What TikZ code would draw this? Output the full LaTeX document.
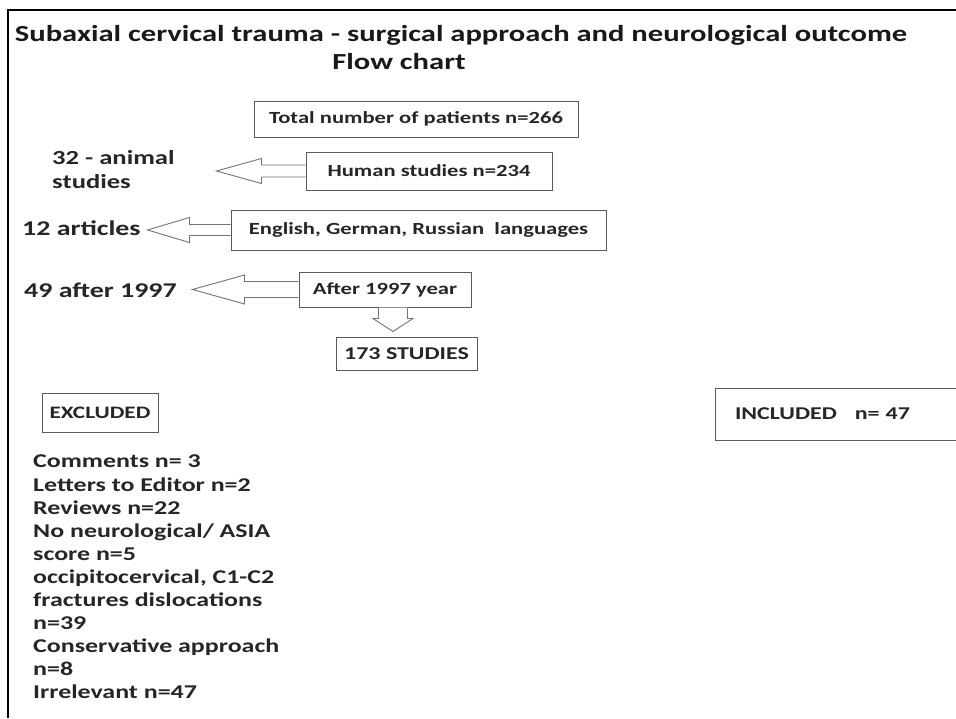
\documentclass[tikz,border=0pt]{standalone}
\usepackage{fontspec}
\setmainfont{Carlito}[FakeStretch=1.33]
\usetikzlibrary{calc}
\tikzset{
  frame/.style={draw=black, line width=1.2pt},
  boxnode/.style={draw=black!65, line width=1pt, inner sep=0pt, font=\bfseries\fontsize{17}{19}\selectfont, text=black!85},
  labnode/.style={anchor=west, inner sep=0pt, font=\bfseries\fontsize{21}{24}\selectfont, text=black!85, align=left},
  listnode/.style={anchor=north west, inner sep=0pt, font=\bfseries\fontsize{19.5}{23.1}\selectfont, text=black!85, align=left},
  hollow/.style={draw=black!55, line width=0.9pt, fill=white, line join=miter},
  titlenode/.style={inner sep=0pt, font=\bfseries\fontsize{23}{26}\selectfont, text=black!90}
}
\begin{document}
\begin{tikzpicture}[x=1pt,y=-1pt]
\useasboundingbox (0,0) rectangle (956,718);
\fill[white] (0,0) rectangle (956,718);
% frame
\draw[frame] (8,718) -- (8,10) -- (956,10);
% title
\node[titlenode] (title1) at (461,35) {Subaxial cervical trauma - surgical approach and neurological outcome};
\node[titlenode] (title2) at (399,62) {Flow chart};
% boxes
\node[boxnode, minimum width=324pt, minimum height=36pt] (total) at (416,119) {Total number of patients n=266};
\node[boxnode, minimum width=246pt, minimum height=38pt] (human) at (429,171) {Human studies n=234};
\node[boxnode, minimum width=375pt, minimum height=40pt] (lang) at (418.5,230) {English, German, Russian\ \ languages};
\node[boxnode, minimum width=172pt, minimum height=35pt] (after) at (385,289.5) {After 1997 year};
\node[boxnode, minimum width=141pt, minimum height=33pt, font=\bfseries\fontsize{18}{20}\selectfont] (s173) at (406.5,353.5) {173 STUDIES};
\node[boxnode, minimum width=116pt, minimum height=39pt, font=\bfseries\fontsize{17.5}{19}\selectfont] (excl) at (100,412.5) {EXCLUDED};
\node[boxnode, minimum width=245pt, minimum height=52pt, text width=205pt, align=left, font=\bfseries\fontsize{18}{20}\selectfont] (incl) at (837.5,414) {INCLUDED\ \ \ n= 47};
% side labels
\node[labnode, font=\bfseries\fontsize{20}{24}\selectfont] (animal) at (52,170) {32 - animal\\studies};
\node[labnode] (art12) at (22,228) {12 articles};
\node[labnode] (a1997) at (24,290) {49 after 1997};
\node[listnode] (exlist) at (33,455) {Comments n= 3\\Letters to Editor n=2\\Reviews n=22\\No neurological/ ASIA\\score n=5\\occipitocervical, C1-C2\\fractures dislocations\\n=39\\Conservative approach\\n=8\\Irrelevant n=47};
% hollow arrows
\draw[hollow] ($(human.west)+(0,-6)$) -- ++(-44,0) -- ++(0,-6.5) -- ($(human.west)+(-89,0)$) -- ($(human.west)+(-44,12.5)$) -- ++(0,-6.5) -- ($(human.west)+(0,6)$);
\draw[hollow] ($(lang.west)+(0,-5.5)$) -- ++(-41,0) -- ++(0,-7) -- ($(lang.west)+(-83,0)$) -- ($(lang.west)+(-41,12.5)$) -- ++(0,-7) -- ($(lang.west)+(0,5.5)$);
\draw[hollow] ($(after.west)+(0,-8)$) -- ++(-54,0) -- ++(0,-6.5) -- ($(after.west)+(-106,0)$) -- ($(after.west)+(-54,14.5)$) -- ++(0,-6.5) -- ($(after.west)+(0,8)$);
\draw[hollow] ($(after.south)+(-6.5,0)$) -- ++(0,11) -- ++(-5.5,0) -- ($(s173.north)+(-13.5,-5)$) -- ($(after.south)+(28,11)$) -- ++(-5.5,0) -- ($(after.south)+(22.5,0)$);
\end{tikzpicture}
\end{document}
